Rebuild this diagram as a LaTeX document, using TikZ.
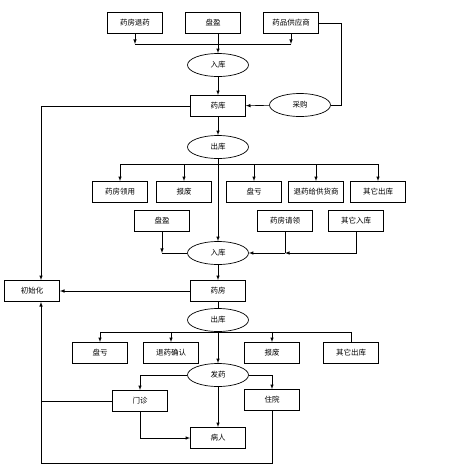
\documentclass[tikz,border=0pt]{standalone}
\usepackage{fontspec}
\newfontfamily\cjk{Noto Sans CJK SC}
\usetikzlibrary{shapes.geometric}

\begin{document}
\begin{tikzpicture}[x=1pt,y=-1pt,>=latex,line width=0.6pt,
  box/.style={draw,line width=0.8pt,minimum width=55pt,minimum height=21pt,inner sep=0pt,font=\cjk\fontsize{7.5}{8}\selectfont},
  oval/.style={draw,ellipse,line width=0.7pt,minimum width=61pt,minimum height=23pt,inner sep=0pt,font=\cjk\fontsize{7.5}{8}\selectfont}]

\useasboundingbox (0,0) rectangle (453,467);

% top: into the store
\node[box] (tuiyao) at (135,23) {药房退药};
\node[box] (panying) at (213,23) {盘盈};
\node[box] (gongying) at (291,23) {药品供应商};
\node[oval] (ruku) at (218,65) {入库};
\node[box] (yaoku) at (218,106) {药库};
\node[oval] (caigou) at (300,105) {采购};
\node[oval] (chuku) at (218,147) {出库};

\coordinate (j1) at (218,44);
\draw[->] (tuiyao.south) -- (tuiyao.south |- j1);
\draw[->] (gongying.south) -- (gongying.south |- j1);
\draw (tuiyao.south |- j1) -- (gongying.south |- j1);
\draw[->] (ruku.north |- panying.south) -- (ruku.north);
\draw[->] (ruku) -- (yaoku);
\draw (gongying.east) -- ++(22,0) |- (caigou.east);
\draw[->] (caigou) -- (yaoku);
\draw[->] (yaoku) -- (chuku);

% out of the store
\node[box] (lingyong) at (120,192) {药房领用};
\node[box] (baofei) at (184,192) {报废};
\node[box] (pankui) at (254,192) {盘亏};
\node[box] (tuigys) at (316,192) {退药给供货商};
\node[box] (qtchuku) at (378,192) {其它出库};

\coordinate (j2) at (218,164);
\draw (lingyong.north |- j2) -- (qtchuku.north |- j2);
\foreach \n in {lingyong,baofei,pankui,tuigys,qtchuku}
  \draw[->] (\n.north |- j2) -- (\n.north);

\node[box] (panying2) at (162,221) {盘盈};
\node[box] (qingling) at (285,221) {药房请领};
\node[box] (qtruku) at (356,221) {其它入库};
\node[oval] (ruku2) at (218,253) {入库};
\node[box] (yaofang) at (218,291) {药房};
\node[box] (chushi) at (32,291) {初始化};

\draw[->] (chuku) -- (ruku2);
\draw[->] (panying2.south) -- (panying2.south |- ruku2.west);
\draw (panying2.south |- ruku2.west) -- (ruku2.west);
\draw[->] (qtruku.south) |- (qingling.south |- ruku2.east);
\draw (qingling.south) -- (qingling.south |- ruku2.east);
\draw[->] (qingling.south |- ruku2.east) -- (ruku2.east);
\draw[->] (ruku2) -- (yaofang);
\draw[->] (yaofang) -- (chushi);
\draw[->] (yaoku.west) -| ([xshift=9pt]chushi.north);

% pharmacy
\node[oval] (chuku2) at (218,320) {出库};
\node[box] (pankui2) at (100,353) {盘亏};
\node[box] (tuiqr) at (171,353) {退药确认};
\node[box] (baofei2) at (272,353) {报废};
\node[box] (qtchuku2) at (351,353) {其它出库};
\node[oval] (fayao) at (218,375) {发药};
\node[box] (menzhen) at (140,401) {门诊};
\node[box] (zhuyuan) at (272,400) {住院};
\node[box] (bingren) at (218,438) {病人};

\draw (yaofang) -- (chuku2);
\draw (pankui2.north |- chuku2.south) -- (qtchuku2.north |- chuku2.south);
\foreach \n in {pankui2,tuiqr,baofei2}
  \draw[->] (\n.north |- chuku2.south) -- (\n.north);
\draw (qtchuku2.north |- chuku2.south) -- (qtchuku2.north);
\draw[->] (chuku2) -- (fayao);
\draw[->] (fayao.west) -| (menzhen.north);
\draw[->] (fayao.east) -| (zhuyuan.north);
\draw[->] (fayao) -- (bingren);
\draw[->] (menzhen.south) |- (bingren.west);
\draw (menzhen.west) -- ([xshift=9pt]chushi.south |- menzhen.west);
\draw[->] (zhuyuan.south) -- ++(0,52) -| ([xshift=9pt]chushi.south);

\end{tikzpicture}
\end{document}
